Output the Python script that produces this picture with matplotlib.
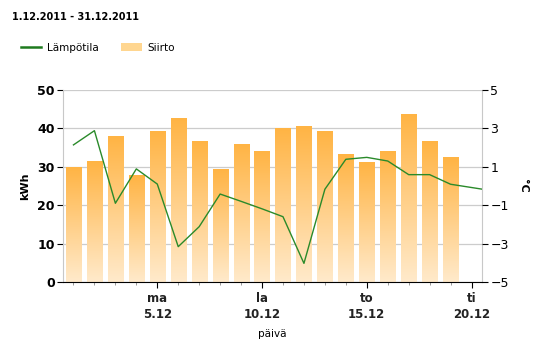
import matplotlib
matplotlib.use("Agg")
import matplotlib.pyplot as plt
import numpy as np
from matplotlib.lines import Line2D
from matplotlib.patches import Patch

# Päivittäinen siirto (kWh) ja lämpötila (°C), joulukuu 2011
paivat = [1, 2, 3, 4, 5, 6, 7, 8, 9, 10, 11, 12, 13, 14, 15, 16, 17, 18, 19]
siirto = [29.7, 31.5, 38.0, 27.8, 39.1, 42.7, 36.7, 29.2, 35.7, 34.1,
          40.0, 40.6, 39.1, 33.1, 31.0, 34.1, 43.5, 36.5, 32.3]
lampo_paivat = [1, 2, 3, 4, 5, 6, 7, 8, 9, 10, 11, 12, 13, 14, 15, 16, 17, 18, 19, 20, 21]
lampotila = [2.14, 2.88, -0.90, 0.89, 0.10, -3.16, -2.12, -0.42, -0.80, -1.19,
             -1.60, -4.03, -0.17, 1.39, 1.49, 1.30, 0.59, 0.59, 0.09, -0.08, -0.25]
tick_paivat = [5, 10, 15, 20]
tick_tekstit = ["ma\n5.12", "la\n10.12", "to\n15.12", "ti\n20.12"]

plt.rcParams["font.family"] = ["DejaVu Sans"]

fig = plt.figure(figsize=(5.57, 3.52), dpi=100)
ax = fig.add_axes([0.1131, 0.1989, 0.7523, 0.5455])

# pylväät liukuvärillä
bars = ax.bar(paivat, siirto, width=0.72, color="none", edgecolor="none", zorder=2)
grad = np.linspace(0, 1, 256).reshape(-1, 1)
cmap = matplotlib.colors.LinearSegmentedColormap.from_list("siirto", ["#ffeacb", "#ffb444"])
for b in bars:
    x0, w, h = b.get_x(), b.get_width(), b.get_height()
    ax.imshow(grad, extent=[x0, x0 + w, 0, h], origin="lower", aspect="auto",
              cmap=cmap, zorder=2)

ax.set_xlim(0.5, 20.5)
ax.set_ylim(0, 50)
ax.set_yticks([0, 10, 20, 30, 40, 50])
ax.yaxis.grid(True, color="#cccccc", linewidth=0.9)
ax.set_axisbelow(True)
ax.set_xticks(tick_paivat)
ax.set_xticklabels(tick_tekstit, fontsize=8.5, fontweight="bold", color="#222222", linespacing=1.3)
ax.set_xticks(range(1, 21), minor=True)
ax.tick_params(axis="x", which="major", length=4, color="black", pad=3)
ax.tick_params(axis="x", which="minor", length=2.5, color="#888888")
ax.tick_params(axis="y", length=4, color="black", labelsize=9, pad=2)
for t in ax.get_yticklabels():
    t.set_fontweight("bold")
ax.set_ylabel("kWh", fontsize=8, fontweight="bold", labelpad=5)
ax.set_xlabel("päivä", fontsize=7.5, labelpad=6)
for s in ["left", "right", "top"]:
    ax.spines[s].set_color("#c8c8c8")
ax.spines["top"].set_visible(False)
ax.spines["bottom"].set_color("black")

# lämpötila oikealle akselille
ax2 = ax.twinx()
ax2.plot(lampo_paivat, lampotila, color="#2a8a2a", linewidth=1.0, zorder=3)
ax2.set_ylim(-5, 5)
ax2.set_xlim(0.5, 20.5)
ax2.set_yticks([-5, -3, -1, 1, 3, 5])
ax2.tick_params(axis="y", length=4, color="black", labelsize=9, pad=2)
ax2.set_ylabel("°C", fontsize=8, fontweight="bold", rotation=270, labelpad=14)
for s in ["left", "right", "top", "bottom"]:
    ax2.spines[s].set_visible(False)

fig.text(0.022, 0.952, "1.12.2011 - 31.12.2011", fontsize=7, fontweight="bold", va="center")

handles = [Line2D([0], [0], color="#1e7a1e", linewidth=1.8),
           Patch(facecolor="#ffd690", edgecolor="none")]
fig.legend(handles, ["Lämpötila", "Siirto"], loc="center left",
           bbox_to_anchor=(0.02, 0.865), ncol=2, frameon=False, fontsize=7.5,
           handlelength=2.0, handletextpad=0.5, columnspacing=2.2)

fig.savefig("out.png", dpi=100)
